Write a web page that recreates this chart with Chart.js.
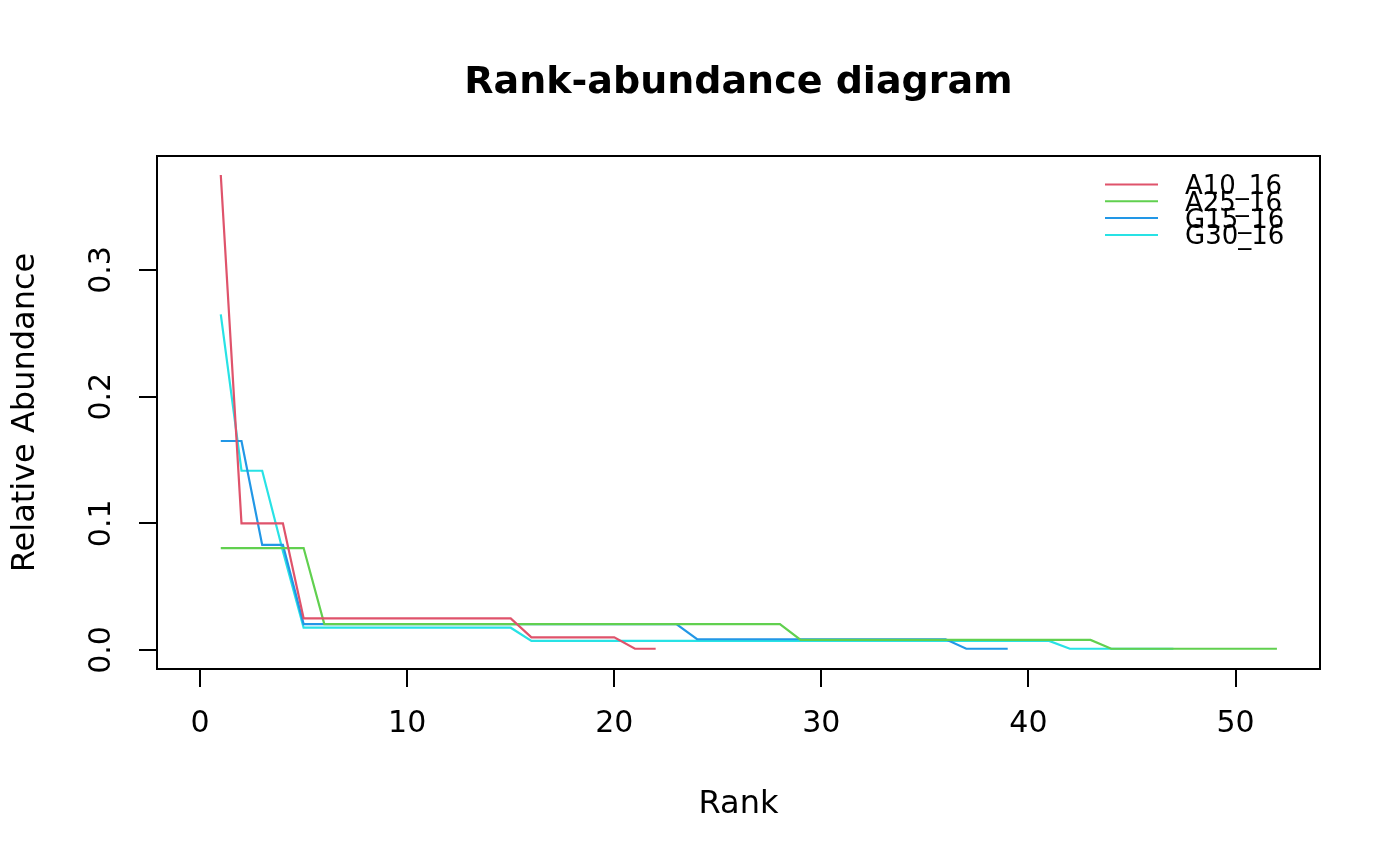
<!DOCTYPE html>
<html>
<head>
<meta charset="utf-8">
<title>Rank-abundance diagram</title>
<script src="https://cdn.jsdelivr.net/npm/chart.js@4"></script>
<style>
  html, body { margin: 0; padding: 0; background: #fff; }
  #wrap { width: 1400px; height: 866px; }
</style>
</head>
<body>
<div id="wrap"><canvas id="myChart" width="1400" height="866"></canvas></div>
<script>
// relative abundance by rank (rank = position + 1)
const seriesNames = ["A10_16", "A25_16", "G15_16", "G30_16"];
const seriesColors = ["#DF536B", "#61D04F", "#2297E6", "#28E2E5"];

const a10 = [0.375, 0.1, 0.1, 0.1,
  0.025, 0.025, 0.025, 0.025, 0.025, 0.025, 0.025, 0.025, 0.025, 0.025, 0.025,
  0.01, 0.01, 0.01, 0.01, 0.01,
  0.001, 0.001];
const a25 = [0.0805, 0.0805, 0.0805, 0.0805, 0.0805,
  0.0205, 0.0205, 0.0205, 0.0205, 0.0205, 0.0205, 0.0205, 0.0205, 0.0205, 0.0205,
  0.0205, 0.0205, 0.0205, 0.0205, 0.0205, 0.0205, 0.0205, 0.0205, 0.0205, 0.0205,
  0.0205, 0.0205, 0.0205,
  0.008, 0.008, 0.008, 0.008, 0.008, 0.008, 0.008, 0.008, 0.008, 0.008, 0.008,
  0.008, 0.008, 0.008, 0.008,
  0.001, 0.001, 0.001, 0.001, 0.001, 0.001, 0.001, 0.001, 0.001];
const g15 = [0.165, 0.165, 0.083, 0.083,
  0.0205, 0.0205, 0.0205, 0.0205, 0.0205, 0.0205, 0.0205, 0.0205, 0.0205, 0.0205,
  0.0205, 0.0205, 0.0205, 0.0205, 0.0205, 0.0205, 0.0205, 0.0205, 0.0205,
  0.0085, 0.0085, 0.0085, 0.0085, 0.0085, 0.0085, 0.0085, 0.0085, 0.0085, 0.0085,
  0.0085, 0.0085, 0.0085,
  0.001, 0.001, 0.001];
const g30 = [0.265, 0.1415, 0.1415, 0.078,
  0.0176, 0.0176, 0.0176, 0.0176, 0.0176, 0.0176, 0.0176, 0.0176, 0.0176, 0.0176, 0.0176,
  0.0072, 0.0072, 0.0072, 0.0072, 0.0072, 0.0072, 0.0072, 0.0072, 0.0072, 0.0072,
  0.0072, 0.0072, 0.0072, 0.0072, 0.0072, 0.0072, 0.0072, 0.0072, 0.0072, 0.0072,
  0.0072, 0.0072, 0.0072, 0.0072, 0.0072, 0.0072,
  0.001, 0.001, 0.001, 0.001, 0.001, 0.001];

const xTicks = [0, 10, 20, 30, 40, 50];
const yTicks = [0, 0.1, 0.2, 0.3];
const titleText = "Rank-abundance diagram";

const allSeries = [a10, a25, g15, g30];
const FONT = "'DejaVu Sans', sans-serif";

let datasets = [];
for (var s = 0; s < allSeries.length; s++) {
  let pts = [];
  for (var i = 0; i < allSeries[s].length; i++) {
    pts.push({ x: i + 1, y: allSeries[s][i] });
  }
  datasets.push({
    label: seriesNames[s],
    data: pts,
    borderColor: seriesColors[s],
    backgroundColor: seriesColors[s],
    borderWidth: 2.2,
    pointRadius: 0,
    tension: 0,
    fill: false,
  });
}

// box round the plot, title over the plot centre, rotated y labels and the R style legend
const rPlot = {
  id: "rPlot",
  afterDraw(chart) {
    const ctx = chart.ctx;
    const area = chart.chartArea;
    ctx.save();
    ctx.strokeStyle = "#000";
    ctx.lineWidth = 2;
    ctx.strokeRect(area.left, area.top, area.right - area.left, area.bottom - area.top);

    ctx.fillStyle = "#000";
    ctx.font = "bold 38px " + FONT;
    ctx.textAlign = "center";
    ctx.textBaseline = "alphabetic";
    ctx.fillText(titleText, (area.left + area.right) / 2, 93);

    const yScale = chart.scales.y;
    ctx.font = "30px " + FONT;
    yScale.ticks.forEach(function (t) {
      const py = yScale.getPixelForValue(t.value);
      ctx.save();
      ctx.translate(110, py);
      ctx.rotate(-Math.PI / 2);
      ctx.fillText(t.value.toFixed(1), 0, 0);
      ctx.restore();
    });

    ctx.font = "26px " + FONT;
    ctx.textAlign = "left";
    for (var k = 0; k < seriesNames.length; k++) {
      const ly = 184.5 + k * 16.8;
      ctx.strokeStyle = seriesColors[k];
      ctx.lineWidth = 2;
      ctx.beginPath();
      ctx.moveTo(1105, ly);
      ctx.lineTo(1158, ly);
      ctx.stroke();
      ctx.fillStyle = "#000";
      ctx.fillText(seriesNames[k], 1185, ly + 9.5);
    }
    ctx.restore();
  },
};

const config = {
  type: "line",
  data: { datasets: datasets },
  options: {
    responsive: false,
    animation: false,
    layout: { padding: { left: 0, right: 80, top: 156, bottom: 0 } },
    plugins: {
      legend: { display: false },
      tooltip: { enabled: false },
      title: { display: false },
    },
    scales: {
      x: {
        type: "linear",
        min: -2.08,
        max: 54.08,
        afterBuildTicks: function (scale) {
          scale.ticks = xTicks.map(function (v) { return { value: v }; });
        },
        afterFit: function (scale) { scale.height = 197; },
        grid: { drawOnChartArea: false, drawTicks: true, tickLength: 18, color: "#000", lineWidth: 2 },
        border: { display: true, color: "#000", width: 2 },
        ticks: {
          color: "#000",
          font: { family: FONT, size: 30 },
          padding: 19,
          maxRotation: 0,
          callback: function (v) { return v; },
        },
        title: {
          display: true,
          text: "Rank",
          color: "#000",
          font: { family: FONT, size: 32, lineHeight: 1.2 },
          padding: { top: 0, bottom: 42 },
        },
      },
      y: {
        type: "linear",
        min: -0.015,
        max: 0.39,
        afterBuildTicks: function (scale) {
          scale.ticks = yTicks.map(function (v) { return { value: v }; });
        },
        afterFit: function (scale) { scale.width = 157; },
        grid: { drawOnChartArea: false, drawTicks: true, tickLength: 18, color: "#000", lineWidth: 2 },
        border: { display: true, color: "#000", width: 2 },
        ticks: { display: false },
        title: {
          display: true,
          text: "Relative Abundance",
          color: "#000",
          font: { family: FONT, size: 32, lineHeight: 1.2 },
          padding: { top: 6, bottom: 0 },
        },
      },
    },
  },
  plugins: [rPlot],
};

const myChart = new Chart(document.getElementById("myChart"), config);
</script>
</body>
</html>
